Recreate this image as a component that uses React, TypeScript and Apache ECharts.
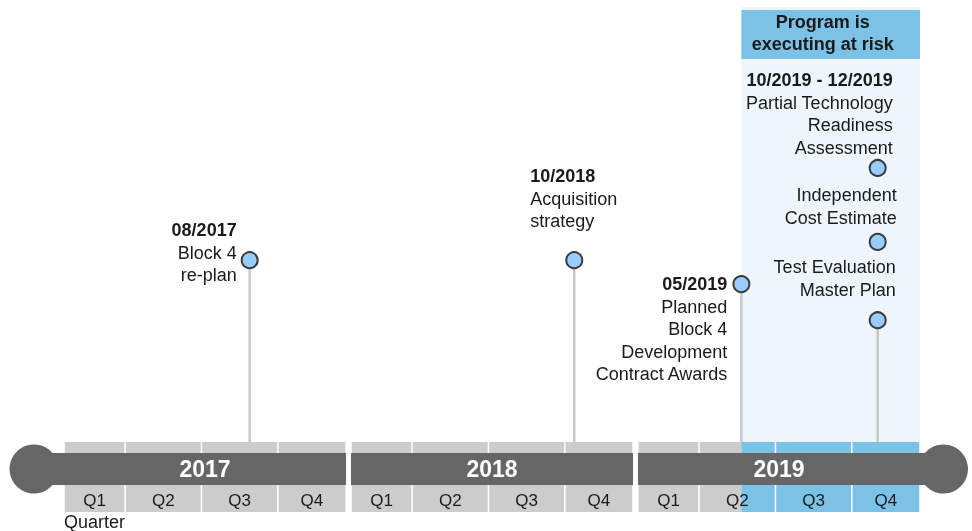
import React, { useEffect, useRef } from 'react';
import * as echarts from 'echarts';

// ---------- data ----------
const years = ['2017', '2018', '2019'];
const quarterLabels = ['Q1', 'Q2', 'Q3', 'Q4'];
const quarterEdgeMonths = [0, 2.6, 5.85, 9.1, 12];
const yearGapMonths = 0.21;
const axisTitle = 'Quarter';

const riskTitle = ['Program is', 'executing at risk'];
const riskStartYearIdx = 2;
const riskStartMonth = 4.4;

const eventDates = ['08/2017', '10/2018', '05/2019', '10/2019 - 12/2019'];
const eventYearIdx = [0, 1, 2, 2];
const eventMonths = [7.9, 9.5, 4.4, 10.2];

const milestoneEvent = [0, 1, 2, 3, 3, 3];
const milestoneHeights = [41.8, 41.8, 36.3, 63.0, 46.0, 28.0];
const milestoneTexts = [
  ['Block 4', 're-plan'],
  ['Acquisition', 'strategy'],
  ['Planned', 'Block 4', 'Development', 'Contract Awards'],
  ['Partial Technology', 'Readiness', 'Assessment'],
  ['Independent', 'Cost Estimate'],
  ['Test Evaluation', 'Master Plan'],
];

// ---------- layout / style ----------
const FONT = '"Liberation Sans", Arial, Helvetica, sans-serif';
const C = {
  dark: '#666666',
  cell: '#cccccc',
  risk: '#7cc1e6',
  riskBg: '#eef6fb',
  marker: '#99ccff',
  markerStroke: '#3c3c3c',
  stem: '#c8c8c8',
  text: '#1a1a1a',
};
const LINE_H = 22.5;
const LABEL_LAYOUT = [
  { align: 'right', dx: -13, dy: -41 },
  { align: 'left', dx: -44, dy: -95 },
  { align: 'right', dx: -14, dy: -11 },
  { align: 'right', dx: 15, dy: -99 },
  { align: 'right', dx: 19, dy: -58 },
  { align: 'right', dx: 18, dy: -64 },
];

function monthToX(yi: number, m: number) {
  return yi * (12 + yearGapMonths) + m;
}
const xMax = monthToX(years.length - 1, 12);
const riskX = monthToX(riskStartYearIdx, riskStartMonth);

export default function App() {
  const ref = useRef<HTMLDivElement>(null);
  useEffect(() => {
    const chart = echarts.init(ref.current as HTMLDivElement, null, { renderer: 'svg' });

    const quarterData: number[][] = [];
    years.forEach((_, yi) =>
      quarterLabels.forEach((_q, qi) =>
        quarterData.push([
          monthToX(yi, quarterEdgeMonths[qi]),
          monthToX(yi, quarterEdgeMonths[qi + 1]),
          yi,
          qi,
        ])
      )
    );
    const yearData = years.map((_, yi) => [monthToX(yi, 0), monthToX(yi, 12), yi]);

    const lowest: Record<number, number> = {};
    const first: Record<number, number> = {};
    milestoneEvent.forEach((e, i) => {
      if (first[e] === undefined) first[e] = i;
      if (lowest[e] === undefined || milestoneHeights[i] < milestoneHeights[lowest[e]]) lowest[e] = i;
    });
    const milestoneData = milestoneEvent.map((e, i) => [
      monthToX(eventYearIdx[e], eventMonths[e]),
      milestoneHeights[i],
      i,
    ]);

    const option: any = {
      animation: false,
      grid: { left: 64, right: 52, top: 7, bottom: 89 },
      xAxis: { type: 'value', min: 0, max: xMax, show: false },
      yAxis: { type: 'value', min: 0, max: 100, show: false },
      series: [
        {
          type: 'custom',
          name: 'risk',
          clip: false,
          data: [[riskX, xMax]],
          renderItem: (_p: any, api: any) => {
            const p0 = api.coord([api.value(0), 100]);
            const p1 = api.coord([api.value(1), 0]);
            const w = p1[0] - p0[0];
            return {
              type: 'group',
              children: [
                { type: 'rect', shape: { x: p0[0], y: p0[1], width: w, height: p1[1] - p0[1] }, style: { fill: C.riskBg } },
                { type: 'rect', shape: { x: p0[0], y: p0[1] + 3, width: w, height: 49 }, style: { fill: C.risk } },
                ...riskTitle.map((t, j) => ({
                  type: 'text',
                  x: p0[0] + w / 2 - 8,
                  y: p0[1] + 14.5 + j * 22,
                  style: { text: t, align: 'center', verticalAlign: 'middle', font: 'bold 18px ' + FONT, fill: C.text },
                })),
              ],
            };
          },
        },
        {
          type: 'custom',
          name: 'milestones',
          clip: false,
          data: milestoneData,
          renderItem: (_p: any, api: any) => {
            const i = api.value(2);
            const e = milestoneEvent[i];
            const p = api.coord([api.value(0), api.value(1)]);
            const base = api.coord([api.value(0), 0]);
            const children: any[] = [];
            if (lowest[e] === i) {
              children.push({
                type: 'line',
                shape: { x1: p[0], y1: p[1], x2: p[0], y2: base[1] },
                style: { stroke: C.stem, lineWidth: 2.5 },
              });
            }
            children.push({
              type: 'circle',
              shape: { cx: p[0], cy: p[1], r: 8 },
              style: { fill: C.marker, stroke: C.markerStroke, lineWidth: 2 },
            });
            const L = LABEL_LAYOUT[i];
            const lines: { t: string; b: boolean }[] = [];
            if (first[e] === i) lines.push({ t: eventDates[e], b: true });
            milestoneTexts[i].forEach((t) => lines.push({ t, b: false }));
            lines.forEach((ln, j) => {
              children.push({
                type: 'text',
                x: p[0] + L.dx,
                y: p[1] + L.dy + LINE_H / 2 + j * LINE_H,
                style: {
                  text: ln.t,
                  align: L.align,
                  verticalAlign: 'middle',
                  font: (ln.b ? 'bold ' : '') + '18px ' + FONT,
                  fill: C.text,
                },
              });
            });
            return { type: 'group', children };
          },
        },
        {
          type: 'custom',
          name: 'quarters',
          clip: false,
          data: quarterData,
          renderItem: (_p: any, api: any) => {
            const a = api.coord([api.value(0), 0]);
            const b = api.coord([api.value(1), 0]);
            const yi = api.value(2);
            const qi = api.value(3);
            const rp = api.coord([riskX, 0])[0];
            const base = a[1];
            const x0 = a[0] + 0.75;
            const x1 = b[0] - 0.75;
            const children: any[] = [];
            const h = 70;
            if (x1 <= rp) {
              children.push({ type: 'rect', shape: { x: x0, y: base, width: x1 - x0, height: h }, style: { fill: C.cell } });
            } else if (x0 >= rp) {
              children.push({ type: 'rect', shape: { x: x0, y: base, width: x1 - x0, height: h }, style: { fill: C.risk } });
            } else {
              children.push({ type: 'rect', shape: { x: x0, y: base, width: rp - x0, height: h }, style: { fill: C.cell } });
              children.push({ type: 'rect', shape: { x: rp, y: base, width: x1 - rp, height: h }, style: { fill: C.risk } });
            }
            children.push({
              type: 'text',
              x: (a[0] + b[0]) / 2,
              y: base + 58,
              style: { text: quarterLabels[qi], align: 'center', verticalAlign: 'middle', font: '17px ' + FONT, fill: C.text },
            });
            if (yi === 0 && qi === 0) {
              children.push({
                type: 'text',
                x: a[0],
                y: base + 80,
                style: { text: axisTitle, align: 'left', verticalAlign: 'middle', font: '18px ' + FONT, fill: C.text },
              });
            }
            return { type: 'group', children };
          },
        },
        {
          type: 'custom',
          name: 'years',
          clip: false,
          data: yearData,
          renderItem: (_p: any, api: any) => {
            const a = api.coord([api.value(0), 0]);
            const b = api.coord([api.value(1), 0]);
            const yi = api.value(2);
            const base = a[1];
            const cy = base + 27;
            let x0 = a[0];
            let x1 = b[0];
            const children: any[] = [];
            if (yi === 0) {
              children.push({ type: 'circle', shape: { cx: x0 - 30, cy, r: 24.5 }, style: { fill: C.dark } });
              x0 = x0 - 30;
            }
            if (yi === years.length - 1) {
              children.push({ type: 'circle', shape: { cx: x1 + 23.5, cy, r: 24.5 }, style: { fill: C.dark } });
              x1 = x1 + 23.5;
            }
            children.push({ type: 'rect', shape: { x: x0, y: base + 11, width: x1 - x0, height: 32 }, style: { fill: C.dark } });
            children.push({
              type: 'text',
              x: (a[0] + b[0]) / 2,
              y: base + 26.5,
              style: { text: years[yi], align: 'center', verticalAlign: 'middle', font: 'bold 23px ' + FONT, fill: '#ffffff' },
            });
            return { type: 'group', children };
          },
        },
      ],
    };
    chart.setOption(option);
    return () => chart.dispose();
  }, []);
  return <div ref={ref} style={{ position: 'fixed', left: 0, top: 0, width: 972, height: 531 }} />;
}
